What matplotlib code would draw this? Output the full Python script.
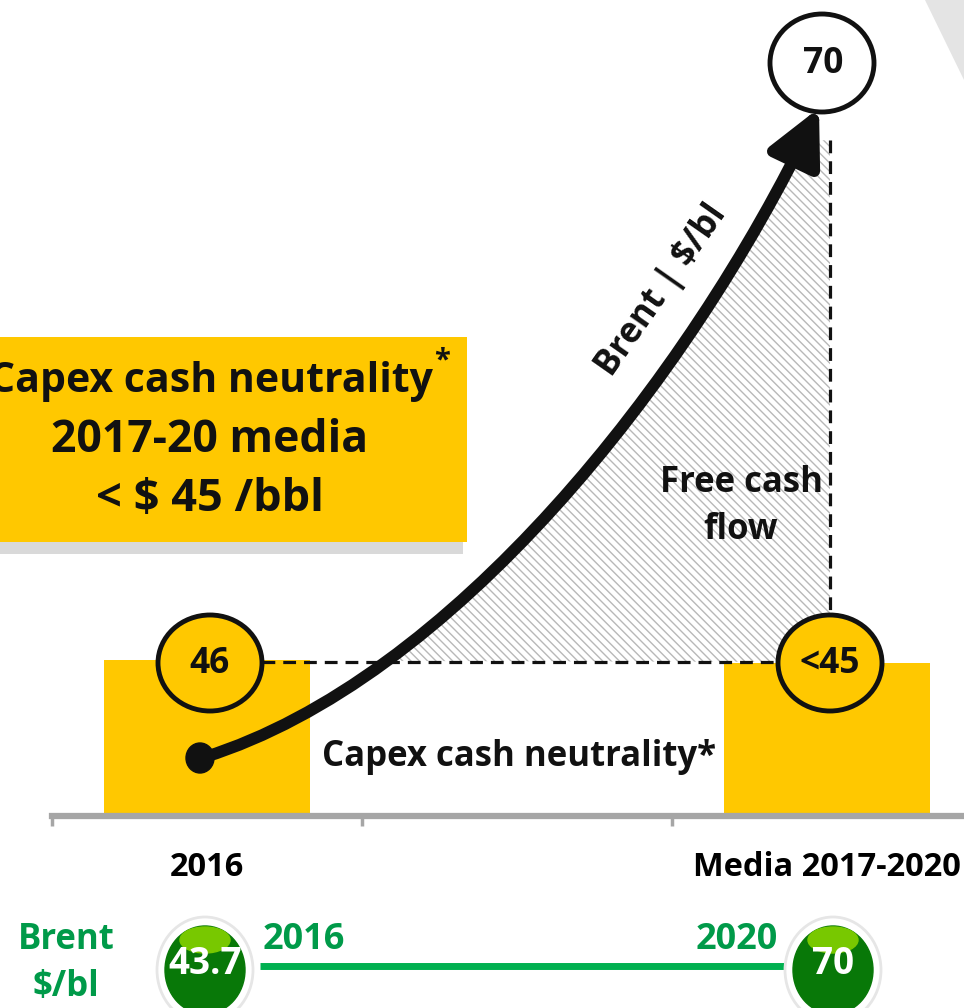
import matplotlib
matplotlib.use('Agg')
import matplotlib.pyplot as plt
from matplotlib.patches import Ellipse, Rectangle, Polygon, FancyArrowPatch, ArrowStyle
from matplotlib.path import Path
import numpy as np

# schematic bars: Brent level for capex cash neutrality
categories = ['2016', '', 'Media 2017-2020']
bar_x = [0, 2]
bar_values = [46, 45]
bar_labels = ['46', '<45']
target_label = '70'

# Brent strip at the bottom
brent_years = ['2016', '2020']
brent_values = ['43.7', '70']

YELLOW = '#FFC800'
GREEN_TXT = '#009A49'
GREEN_LINE = '#00B050'
GRAY_AXIS = '#A6A6A6'
INK = '#111111'

plt.rcParams['font.family'] = ['Open Sans', 'DejaVu Sans']
plt.rcParams['font.weight'] = 'bold'
plt.rcParams['hatch.linewidth'] = 1.0
plt.rcParams['hatch.color'] = '#B8B8B8'

W, H = 964, 1008
fig = plt.figure(figsize=(W / 100, H / 100), dpi=100)
fig.patch.set_facecolor('white')

# --- bar axes: category x, value y ---
base_px, top_px = 813, 660
ax = fig.add_axes([52 / W, (H - base_px) / H, 930 / W, base_px / H])
ax.patch.set_visible(False)
ax.set_xlim(-0.5, 2.5)
ax.set_ylim(0, bar_values[0] * base_px / (base_px - top_px))
ax.bar(bar_x, bar_values, width=0.665, color=YELLOW, zorder=1)
for s in ['top', 'left', 'right']:
    ax.spines[s].set_visible(False)
ax.spines['bottom'].set_color(GRAY_AXIS)
ax.spines['bottom'].set_linewidth(4.5)
ax.spines['bottom'].set_position(('outward', 2.5))
ax.set_yticks([])
ax.set_xticks([-0.5, 0.5, 1.5, 2.5])
ax.set_xticklabels([])
ax.tick_params(axis='x', which='major', length=7, width=2.5, color=GRAY_AXIS)
ax.set_xticks([0, 1, 2], minor=True)
ax.set_xticklabels(categories, minor=True, fontsize=23.5, fontweight='bold')
ax.tick_params(axis='x', which='minor', length=0, pad=25)

# --- overlay in pixel coordinates for the annotations ---
ov = fig.add_axes([0, 0, 1, 1])
ov.set_xlim(0, W)
ov.set_ylim(H, 0)
ov.axis('off')

# grey corner shape top right
ov.add_patch(Polygon([(925, 0), (W, 0), (W, 80)], closed=True, color='#E4E4E4', lw=0))

# yellow call-out box with shadow
ov.add_patch(Rectangle((0, 541), 463, 13, color='#D9D9D9', lw=0))
ov.add_patch(Rectangle((0, 337), 467, 205, color=YELLOW, lw=0))
t1 = ov.text(211, 381, 'Capex cash neutrality', ha='center', va='center', fontsize=29.5, color=INK)
ov.text(210, 441, '2017-20 media', ha='center', va='center', fontsize=32, color=INK)
ov.text(210, 500, '< $ 45 /bbl', ha='center', va='center', fontsize=32.5, color=INK)
fig.canvas.draw()
bb = t1.get_window_extent().transformed(ov.transData.inverted())
ov.text(bb.xmax + 1, bb.ymin - 14, '*', ha='left', va='top', fontsize=21, color=INK)

# Brent curve
P0, P1, P2, P3 = (205, 757), (450, 680), (688, 382), (819, 108)
curve = Path([P0, P1, P2, P3], [Path.MOVETO, Path.CURVE4, Path.CURVE4, Path.CURVE4])

# hatched free cash flow area between curve and dashed lines
t = np.linspace(0, 1, 200)[:, None]
pts = ((1 - t) ** 3 * np.array(P0) + 3 * (1 - t) ** 2 * t * np.array(P1)
       + 3 * (1 - t) * t ** 2 * np.array(P2) + t ** 3 * np.array(P3))
sel = pts[(pts[:, 1] <= 662) & (pts[:, 1] >= 140)]
area = np.vstack([sel, [(830, 140), (830, 662)]])
ov.add_patch(Polygon(area, closed=True, facecolor='white', edgecolor='#B8B8B8',
                     lw=0, hatch='\\\\\\\\', zorder=1))

# dashed guides
ov.plot([262, 777], [662, 662], color=INK, lw=2.3, ls=(0, (4, 2.5)), zorder=2)
ov.plot([830, 830], [140, 610], color=INK, lw=2.3, ls=(0, (4, 2.5)), zorder=2)

arrow = FancyArrowPatch(path=curve, arrowstyle=ArrowStyle('-|>', head_length=33, head_width=16.5),
                        mutation_scale=1, lw=8.5, color=INK, transform=ov.transData, zorder=4)
ov.add_patch(arrow)
ov.add_patch(Ellipse((200, 758), 28, 30, color=INK, zorder=4))

ov.text(662, 290, 'Brent | $/bl', rotation=55, rotation_mode='anchor', ha='center', va='center',
        fontsize=25, color=INK, zorder=5)
ov.text(741, 483, 'Free cash', ha='center', va='center', fontsize=25, color=INK, zorder=5)
ov.text(741, 530, 'flow', ha='center', va='center', fontsize=25, color=INK, zorder=5)
ov.text(519, 757, 'Capex cash neutrality*', ha='center', va='center', fontsize=25, color=INK, zorder=5)

# value circles
ov.add_patch(Ellipse((822, 63), 104, 98, facecolor='white', edgecolor=INK, lw=3.5, zorder=5))
ov.text(823, 64, target_label, ha='center', va='center', fontsize=25.5, color=INK, zorder=6)
for cx, lab in zip([210, 830], bar_labels):
    ov.add_patch(Ellipse((cx, 663), 104, 96, facecolor=YELLOW, edgecolor=INK, lw=3.5, zorder=5))
    ov.text(cx, 664, lab, ha='center', va='center', fontsize=25.5, color=INK, zorder=6)

# bottom Brent strip
ov.text(66, 940, 'Brent', ha='center', va='center', fontsize=25, color=GREEN_TXT)
ov.text(66, 987, '$/bl', ha='center', va='center', fontsize=25, color=GREEN_TXT)
ov.plot([260, 784], [966, 966], color=GREEN_LINE, lw=5, solid_capstyle='butt')
ov.text(263, 940, brent_years[0], ha='left', va='center', fontsize=26, color=GREEN_TXT)
ov.text(778, 940, brent_years[1], ha='right', va='center', fontsize=26, color=GREEN_TXT)
for cx, val in zip([205, 833], brent_values):
    ov.add_patch(Ellipse((cx, 970), 96, 106, facecolor='white', edgecolor='#E6E6E6', lw=2, zorder=5))
    ov.add_patch(Ellipse((cx, 970), 80, 88, color='#087808', zorder=6))
    ov.add_patch(Ellipse((cx, 940), 50, 26, color='#78C800', zorder=6))
    ov.text(cx, 964, val, ha='center', va='center', fontsize=26.5, color='white', zorder=7)

fig.savefig('out.png', dpi=100)
